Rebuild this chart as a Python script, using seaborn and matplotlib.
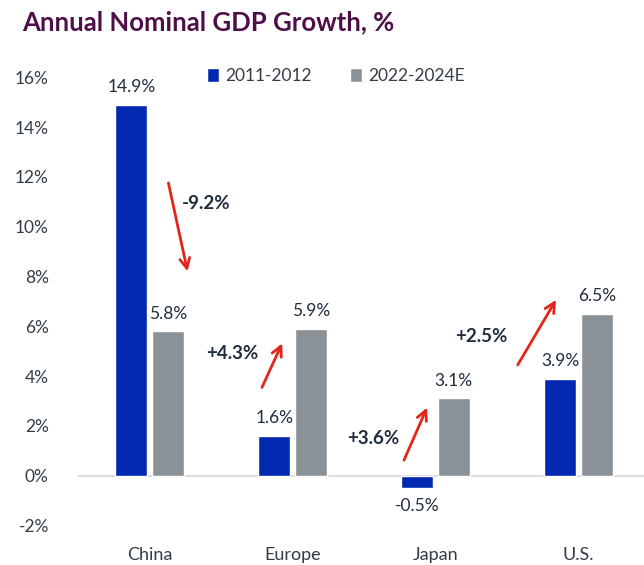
import pandas as pd
import seaborn as sns
import matplotlib.pyplot as plt

regions = ["China", "Europe", "Japan", "U.S."]
periods = ["2011-2012", "2022-2024E"]
growth_2011 = [14.9, 1.6, -0.5, 3.9]
growth_2022 = [5.8, 5.9, 3.1, 6.5]
changes = ["-9.2%", "+4.3%", "+3.6%", "+2.5%"]

df = pd.DataFrame({
    "region": regions * 2,
    "period": [periods[0]] * 4 + [periods[1]] * 4,
    "growth": growth_2011 + growth_2022,
})

sns.set_theme(style="white")
plt.rcParams['font.family'] = ['Lato', 'DejaVu Sans']

blue = "#0328b0"
gray = "#8a9297"
text_c = "#1f2d3d"

fig = plt.figure(figsize=(6.44, 5.65), dpi=100)
# axes run a bit past the right edge, as in the source image
ax = fig.add_axes([78 / 644, 24.6 / 565, 572 / 644, 478 / 565])

sns.barplot(data=df, x="region", y="growth", hue="period",
            palette=[blue, gray], saturation=1, width=0.51, gap=0.12,
            ax=ax, zorder=3)

ax.axhline(0, color="#dcdcdc", lw=1.5, zorder=2)
ax.set_xlim(-0.5, 3.5)
ax.set_ylim(-2.6, 16.6)
ax.set_yticks(range(-2, 17, 2))
ax.set_yticklabels([f"{v}%" for v in range(-2, 17, 2)])
ax.tick_params(axis="y", length=0, pad=21, labelsize=12.5, labelcolor="#333d47")
ax.tick_params(axis="x", length=0, pad=5, labelsize=13, labelcolor="#333d47")
ax.set_xlabel("")
ax.set_ylabel("")
sns.despine(ax=ax, left=True, bottom=True)

for cont in ax.containers:
    ax.bar_label(cont, fmt="%.1f%%", padding=7, fontsize=12.5, color=text_c)

# arrows: (tail, head, text position, alignment)
arrows = [
    ((0.128, 11.87), (0.27, 8.1), (0.226, 10.94), "left"),
    ((0.778, 3.44), (0.936, 5.42), (0.759, 4.92), "right"),
    ((1.772, 0.52), (1.949, 2.84), (1.749, 1.50), "right"),
    ((2.565, 4.35), (2.853, 7.16), (2.506, 5.58), "right"),
]
for (tail, head, txt, ha), lab in zip(arrows, changes):
    ax.annotate("", xy=head, xytext=tail,
                arrowprops=dict(arrowstyle="->", color="#e2261c", lw=2,
                                mutation_scale=18), zorder=4)
    ax.text(txt[0], txt[1], lab, ha=ha, va="center", fontsize=13.5,
            fontweight="bold", color=text_c)

handles, labels = ax.get_legend_handles_labels()
ax.legend(handles, labels, loc="center left", bbox_to_anchor=(0.2255, 0.9715),
          ncol=2, frameon=False, fontsize=12.5, handlelength=0.7,
          handleheight=0.8, handletextpad=0.35, columnspacing=2.2,
          borderaxespad=0, borderpad=0, labelcolor="#333d47")

fig.text(22 / 644, 1 - 22 / 565, "Annual Nominal GDP Growth, %", fontsize=18.5,
         fontweight="bold", color="#4e0f48", va="center", ha="left")

plt.savefig("out.png", dpi=100)
